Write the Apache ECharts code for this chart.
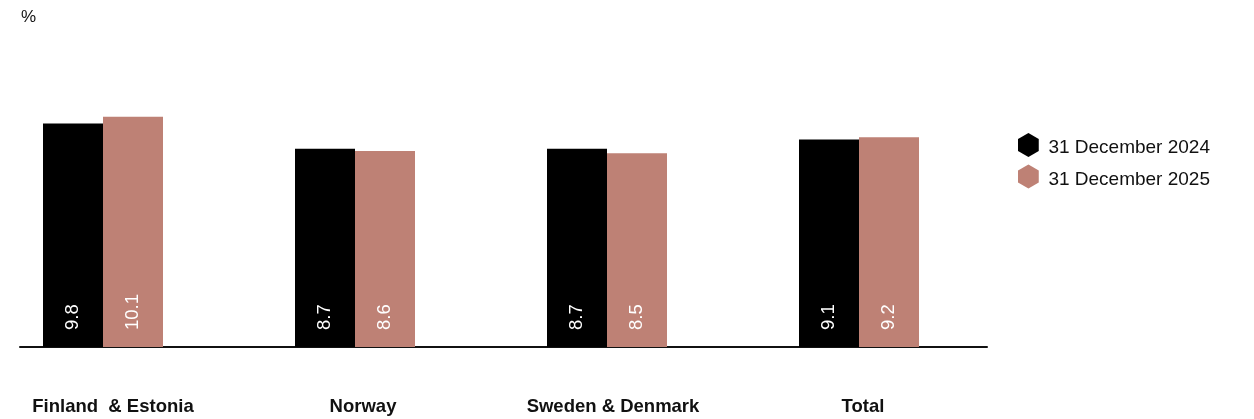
<!DOCTYPE html>
<html>
<head>
<meta charset="utf-8">
<script src="https://cdn.jsdelivr.net/npm/echarts@6/dist/echarts.min.js"></script>
<style>
  html, body { margin: 0; padding: 0; background: #ffffff; }
  #chart { width: 1254px; height: 419px; }
</style>
</head>
<body>
<div id="chart"></div>
<script>
// Regions and the two reporting dates
const categories = ['Finland  & Estonia', 'Norway', 'Sweden & Denmark', 'Total'];
const seriesNames = ['31 December 2024', '31 December 2025'];
const values2024 = [9.8, 8.7, 8.7, 9.1];
const values2025 = [10.1, 8.6, 8.5, 9.2];
const unitLabel = '%';

const colors = ['#000000', '#be8175'];
const FONT = '"Liberation Sans", Arial, Helvetica, sans-serif';
const hexagon = 'path://M87 0 L173 50 L173 150 L87 200 L0 150 L0 50 Z';

const valueLabel = {
  show: true,
  position: 'insideBottom',
  rotate: 90,
  align: 'left',
  verticalAlign: 'middle',
  distance: 17,
  color: '#ffffff',
  fontFamily: FONT,
  fontSize: 18.5,
  formatter: p => p.value.toFixed(1)
};

const chart = echarts.init(document.getElementById('chart'), null, { renderer: 'canvas' });

chart.setOption({
  animation: false,
  backgroundColor: '#ffffff',
  title: {
    text: unitLabel,
    left: 16,
    top: 4,
    textStyle: { fontFamily: FONT, fontSize: 17, fontWeight: 'normal', color: '#111111' }
  },
  legend: {
    orient: 'vertical',
    left: 1013,
    top: 128,
    itemWidth: 22,
    itemHeight: 24,
    itemGap: 7,
    icon: hexagon,
    data: seriesNames,
    formatter: name => '{t|' + name + '}',
    textStyle: {
      fontFamily: FONT,
      fontSize: 19,
      color: '#111111',
      rich: {
        t: { fontFamily: FONT, fontSize: 19, color: '#111111', padding: [6, 0, 0, 4] }
      }
    }
  },
  grid: [
    // bar groups: categories sit on the ticks, from the first group to the last
    { left: 103, right: 395, top: 73.4, bottom: 72, containLabel: false },
    // baseline
    { left: 20, right: 267, top: 73.4, bottom: 72, containLabel: false },
    // category names
    { left: 113, right: 391, top: 73.4, bottom: 72, containLabel: false }
  ],
  xAxis: [
    {
      type: 'category',
      gridIndex: 0,
      data: categories,
      boundaryGap: false,
      axisLine: { show: false },
      axisTick: { show: false },
      splitLine: { show: false },
      axisLabel: { show: false }
    },
    {
      type: 'category',
      gridIndex: 1,
      data: categories,
      axisLine: { show: true, lineStyle: { color: '#111111', width: 2 } },
      axisTick: { show: false },
      axisLabel: { show: false }
    },
    {
      type: 'category',
      gridIndex: 2,
      data: categories,
      boundaryGap: false,
      axisLine: { show: false },
      axisTick: { show: false },
      splitLine: { show: false },
      axisLabel: {
        margin: 50,
        color: '#111111',
        fontFamily: FONT,
        fontSize: 18.5,
        fontWeight: 'bold',
        interval: 0
      }
    }
  ],
  yAxis: [
    { type: 'value', gridIndex: 0, min: 0, max: 12, show: false },
    { type: 'value', gridIndex: 1, min: 0, max: 12, show: false },
    { type: 'value', gridIndex: 2, min: 0, max: 12, show: false }
  ],
  series: [
    {
      name: seriesNames[0],
      type: 'bar',
      xAxisIndex: 0,
      yAxisIndex: 0,
      data: values2024,
      barWidth: 60,
      barGap: '0%',
      clip: false,
      itemStyle: { color: colors[0] },
      label: valueLabel
    },
    {
      name: seriesNames[1],
      type: 'bar',
      xAxisIndex: 0,
      yAxisIndex: 0,
      data: values2025,
      barWidth: 60,
      barGap: '0%',
      clip: false,
      itemStyle: { color: colors[1] },
      label: valueLabel
    }
  ]
});
</script>
</body>
</html>
